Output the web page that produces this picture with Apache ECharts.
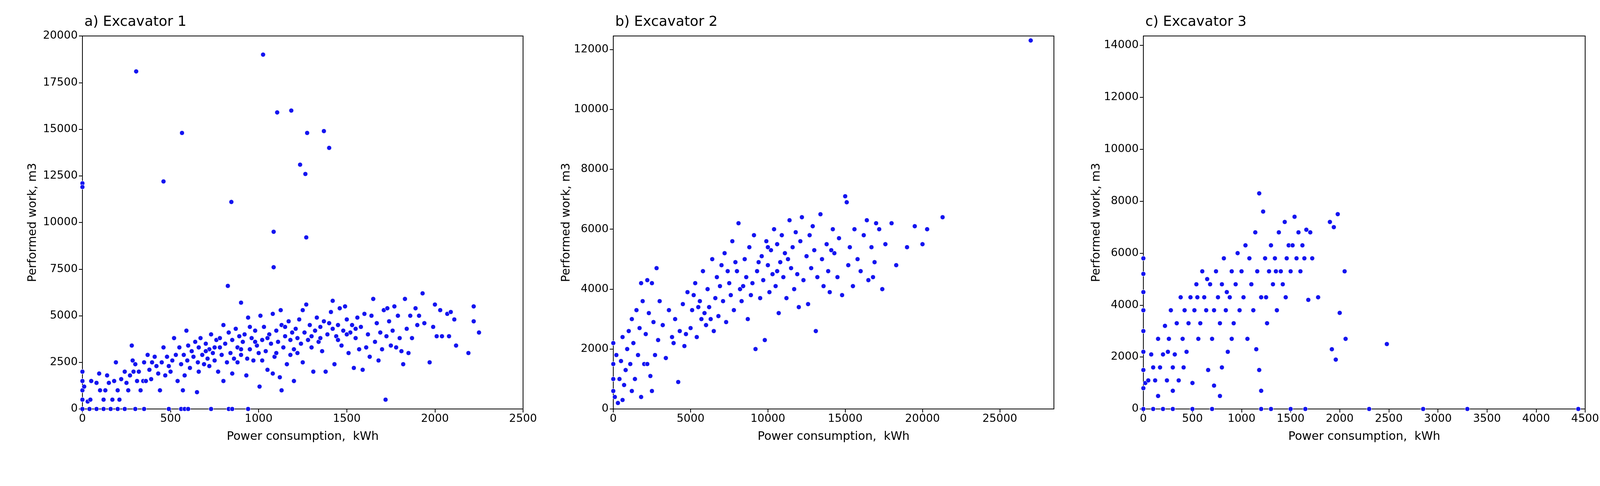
<!DOCTYPE html>
<html>
<head>
<meta charset="utf-8">
<script src="https://cdn.jsdelivr.net/npm/echarts@6/dist/echarts.min.js"></script>
<style>html,body{margin:0;background:#fff}#main{width:4376px;height:1243px}</style>
</head>
<body>
<div id="main"></div>
<script>
// Excavator 1: [kWh, m3]
let ex1 = [
[0,12100],[0,11900],[305,18100],[460,12200],[565,14800],[1025,19000],[1105,15900],[1185,16000],[1275,14800],[1370,14900],[1400,14000],[1235,13100],[1265,12600],[845,11100],[1085,9500],[1270,9200],[1085,7600],[825,6600],[900,5700],
[0,1500],[0,1000],[0,500],[0,2000],[10,1200],[30,400],[45,500],[50,1500],[80,1400],[95,1900],[100,1000],[120,500],[130,1000],[140,1800],[150,1400],[170,500],[180,1500],[190,2500],[200,1000],[210,500],
[220,1600],[240,2000],[250,1400],[260,1000],[270,1800],[280,3400],[285,2600],[290,2000],[300,2400],[310,1500],[320,2000],[330,1000],[345,1500],[350,2500],[360,1500],[370,2900],[380,2100],[390,1600],[395,2500],
[410,2800],[420,2300],[430,1900],[440,1000],[450,2500],[460,3300],[470,1800],[480,2800],[490,2300],[500,2000],[510,2600],[520,3800],[530,2900],[540,1500],[550,3300],[560,2400],[570,1000],[575,2900],[580,1800],[590,4200],[595,2600],[600,3400],
[610,2200],[620,3100],[630,2800],[640,3600],[650,900],[655,2500],[660,3300],[670,3800],[680,2900],[690,2400],[700,3500],[710,2700],[720,3200],[730,4000],[740,3000],[750,2600],[760,3700],[770,2000],[780,3300],[790,2900],[800,4500],[800,1500],[780,3800],[720,2300],[660,2000],[700,3100],[750,3300],
[810,3500],[820,2500],[830,4100],[840,3000],[850,3700],[860,2700],[870,4300],[880,3300],[890,3900],[900,2900],[910,3600],[920,4000],[930,1800],[935,2700],[940,4900],[950,3200],[960,3800],[970,2600],[980,4200],[990,3400],[1000,3000],[1005,1200],[1010,5000],[850,1900],[880,2500],[900,3200],[950,4400],[980,3600],
[1020,3700],[1030,4400],[1040,3100],[1050,2100],[1060,4000],[1070,3500],[1080,5100],[1080,1900],[1090,2800],[1100,4200],[1110,3600],[1120,1700],[1125,5300],[1130,4500],[1140,3300],[1150,3900],[1160,2400],[1170,4700],[1180,3700],[1190,4100],[1200,1500],[1200,3200],[1050,3800],[1100,3000],[1150,4400],[1180,2900],[1020,2600],[1130,1000],
[1210,4300],[1220,3800],[1230,4800],[1240,3500],[1250,5300],[1260,4100],[1270,5600],[1280,3700],[1290,4500],[1300,3300],[1310,2000],[1320,4200],[1330,4900],[1340,3600],[1350,4400],[1360,3100],[1370,4700],[1380,2000],[1390,4000],[1400,4600],[1250,2500],[1300,3900],[1350,3800],[1220,3000],
[1410,5200],[1420,5800],[1430,2400],[1440,3900],[1450,4500],[1460,5400],[1470,3400],[1480,4200],[1490,5500],[1500,4800],[1510,3000],[1520,4100],[1530,4500],[1540,2200],[1550,3800],[1560,4900],[1570,3200],[1580,4400],[1590,2100],[1600,5100],[1450,3700],[1500,4000],[1550,4300],[1420,4300],
[1610,3300],[1620,4000],[1630,2800],[1640,5000],[1650,5900],[1660,3600],[1670,4600],[1680,2600],[1690,4100],[1700,3200],[1710,5300],[1720,500],[1725,3900],[1730,5400],[1740,4700],[1750,3400],[1760,4200],[1770,5500],[1780,3300],[1790,5000],[1800,3800],
[1810,3100],[1820,2400],[1830,5900],[1840,4300],[1850,3000],[1860,5000],[1870,3800],[1890,5400],[1900,4500],[1910,5000],[1930,6200],[1940,4600],[1970,2500],[1990,4400],[2000,5600],[2010,3900],[2030,5300],[2040,3900],[2070,5100],[2080,3900],[2090,5200],[2110,4800],[2120,3400],[2190,3000],[2220,5500],[2220,4700],[2250,4100],
[0,0],[40,0],[80,0],[120,0],[160,0],[200,0],[240,0],[300,0],[350,0],[490,0],[560,0],[580,0],[600,0],[730,0],[830,0],[850,0],[940,0]
];
// Excavator 2
let ex2 = [
[0,1000],[0,1500],[0,2200],[0,600],[100,400],[200,1800],[300,200],[400,1000],[500,1600],[600,2400],[700,800],[800,1300],[900,2000],[1000,2600],[1100,1500],[1200,3000],[1300,2200],[1400,1000],[1500,3300],[1600,1800],[1700,2700],[1800,4200],[1900,3600],[2000,1500],[2100,2500],[2200,4300],[2300,3200],[2400,1100],[2500,4200],[2600,2900],[2700,1800],[2800,4700],[2900,2300],[3000,3600],[1800,400],[2200,1500],[2500,600],[1200,600],[600,300],
[3200,2800],[3400,1700],[3600,3300],[3800,2400],[4000,3000],[4200,900],[4300,2600],[4500,3500],[4600,2100],[4800,3900],[5000,2700],[5100,3300],[5300,4200],[5400,2400],[5600,3600],[5700,3000],[5800,4600],[5900,3200],[6000,2800],[4700,2500],[5200,3800],[5500,3400],[3900,2200],
[6100,4000],[6200,3400],[6400,5000],[6500,2600],[6600,3700],[6700,4400],[6800,3100],[7000,4800],[7100,3600],[7200,5200],[7300,2900],[7500,4200],[7600,3800],[7700,5600],[7800,3300],[8000,4600],[8100,6200],[8200,4000],[8300,3600],[8500,5000],[8600,4400],[8700,3000],[8800,5400],[9000,4200],[6300,3000],[6900,4100],[7400,4600],[7900,4900],[8400,4100],[8900,3800],
[9100,5800],[9200,2000],[9300,4600],[9500,3700],[9600,5100],[9700,4300],[9800,2300],[9900,5600],[10000,4800],[10100,3900],[10200,5300],[10300,4500],[10400,6000],[10500,4100],[10600,5500],[10700,3200],[10800,4900],[10900,5800],[11000,4400],[11100,5200],[11200,3700],[11400,6300],[11500,4700],[11600,5400],[11700,4000],[11800,5900],[11900,4500],[12000,3400],[9400,4900],[10000,5400],[10600,4600],[11300,5000],
[12100,5600],[12200,6400],[12300,4300],[12500,5100],[12600,3500],[12700,5800],[12800,4700],[13000,5300],[13100,2600],[13200,4400],[13400,6500],[13500,5000],[13600,4100],[13800,5500],[13900,4600],[14000,3900],[14200,6000],[14300,5200],[14500,4400],[14600,5700],[14800,3800],[15000,7100],[15100,6900],[15200,4800],[15300,5400],[15500,4100],[15600,6000],[15800,5000],[16000,4600],[12900,6100],[14100,5300],
[16200,5800],[16400,6300],[16500,4300],[16700,5400],[16900,4900],[17200,6000],[17400,4000],[17600,5500],[18000,6200],[18300,4800],[19000,5400],[19500,6100],[20000,5500],[20300,6000],[21300,6400],[16800,4400],[17000,6200],
[27000,12300]
];
// Excavator 3
let ex3 = [
[0,5800],[0,5200],[0,4500],[0,3800],[0,3000],[0,2200],[0,1500],[0,800],[0,0],
[20,1000],[50,1100],[80,2100],[100,1600],[120,1100],[150,2700],[170,1600],[200,2100],[220,3200],[240,1100],[260,2700],[280,3800],[300,1600],[320,2100],[340,3300],[360,1100],[380,4300],[400,2700],[420,3800],[440,2200],[460,3300],[480,4300],[500,1000],[300,700],[150,500],[250,2200],[410,1600],
[520,3800],[540,4800],[560,2700],[580,3300],[600,5300],[620,4300],[640,3800],[660,1500],[680,4800],[700,2700],[720,3800],[740,5300],[760,4300],[780,3300],[800,1600],[800,4800],[820,5800],[840,3800],[860,2200],[880,4300],[900,5300],[920,3300],[940,4800],[960,6000],[980,3800],[1000,5300],[780,500],[720,900],[850,4500],[900,2700],[550,4300],[650,5000],
[1020,4300],[1040,6300],[1060,2700],[1080,14500],[1080,5800],[1100,4800],[1120,3800],[1140,6800],[1160,5300],[1180,8300],[1180,1500],[1200,4300],[1220,7600],[1240,5800],[1260,3300],[1280,5300],[1300,6300],[1320,4800],[1340,5800],[1360,3800],[1380,6800],[1400,5300],[1420,4800],[1440,7200],[1460,5800],[1480,6300],[1500,5300],[1150,2300],[1200,700],[1250,4300],[1350,5300],[1450,4300],
[1520,6300],[1540,7400],[1560,5800],[1580,6800],[1600,5300],[1620,6300],[1640,5800],[1660,6900],[1680,4200],[1700,6800],[1720,5800],[1780,4300],[1900,7200],[1920,2300],[1940,7000],[1960,1900],[1980,7500],[2000,3700],[2050,5300],[2060,2700],[2480,2500],
[100,0],[200,0],[300,0],[500,0],[700,0],[1200,0],[1300,0],[1500,0],[1650,0],[2300,0],[2850,0],[3300,0],[4430,0]
];
let titles = ['a) Excavator 1', 'b) Excavator 2', 'c) Excavator 3'];
let xLimits = [[0, 2500, 500], [0, 28500, 5000], [0, 4500, 500]];
let yLimits = [[0, 20000, 2500], [0, 12450, 2000], [0, 14360, 2000]];
let panels = [ex1, ex2, ex3];
let lefts = [211, 1570, 2927];
let widths = [1128, 1128, 1131];

let myChart = echarts.init(document.getElementById('main'));
let font = 'DejaVu Sans';
let plain = v => String(v);
let grids = [], xAxes = [], yAxes = [], series = [], titleArr = [];
panels.forEach((d, i) => {
    grids.push({left: lefts[i], top: 92, width: widths[i], height: 954,
        show: true, borderColor: '#000', borderWidth: 2, backgroundColor: '#fff'});
    titleArr.push({text: titles[i], left: lefts[i], top: 34,
        textStyle: {fontFamily: font, fontWeight: 'normal', fontSize: 36, color: '#000'}});
    let axisCommon = {
        axisLine: {show: true, onZero: false, lineStyle: {color: '#000', width: 2}},
        axisTick: {show: true, length: 9, lineStyle: {color: '#000', width: 2}},
        splitLine: {show: false},
        axisLabel: {fontFamily: font, fontSize: 28, color: '#000', margin: 12, formatter: plain, showMaxLabel: i !== 1},
        nameTextStyle: {fontFamily: font, fontSize: 30, color: '#000'}
    };
    xAxes.push(Object.assign({}, axisCommon, {
        type: 'value', gridIndex: i, min: xLimits[i][0], max: xLimits[i][1], interval: xLimits[i][2],
        name: 'Power consumption,  kWh', nameLocation: 'middle', nameGap: 56
    }));
    yAxes.push(Object.assign({}, axisCommon, {
        type: 'value', gridIndex: i, min: yLimits[i][0], max: yLimits[i][1], interval: yLimits[i][2],
        axisLabel: Object.assign({}, axisCommon.axisLabel, {showMaxLabel: i === 0}),
        name: 'Performed work, m3', nameLocation: 'middle', nameGap: i === 0 ? 112 : 100
    }));
    series.push({
        type: 'scatter', xAxisIndex: i, yAxisIndex: i, data: d, symbolSize: 12,
        itemStyle: {color: '#1414f0', borderColor: '#fff', borderWidth: 1, opacity: 1}
    });
});

myChart.setOption({
    animation: false,
    title: titleArr,
    grid: grids,
    xAxis: xAxes,
    yAxis: yAxes,
    series: series
});
</script>
</body>
</html>
